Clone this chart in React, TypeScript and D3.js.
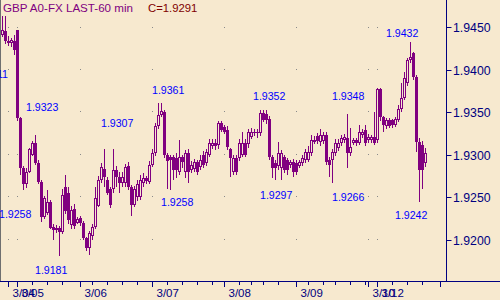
import React, { useEffect } from "react";
import * as d3 from "d3";

// ---- data ----
const opens = [
  1.9441, 1.9445, 1.9434, 1.9431, 1.9433, 1.9446, 1.9343, 1.9284, 1.9265, 1.928,
  1.93, 1.9314, 1.929, 1.9268, 1.9227, 1.9231, 1.9244, 1.9215, 1.9211, 1.9213,
  1.9209, 1.9262, 1.9255, 1.9217, 1.9236, 1.922, 1.9225, 1.922, 1.9202, 1.919,
  1.9204, 1.9215, 1.924, 1.927, 1.9283, 1.927, 1.926, 1.9259, 1.9282, 1.9274,
  1.9266, 1.9266, 1.9287, 1.9262, 1.9241, 1.925, 1.925, 1.9266, 1.9272, 1.9268,
  1.9288, 1.9302, 1.9333, 1.9347, 1.935, 1.93, 1.9297, 1.9297, 1.9296, 1.928,
  1.9297, 1.9279, 1.9302, 1.9282, 1.9283, 1.9291, 1.9285, 1.93, 1.929, 1.93,
  1.931, 1.9314, 1.9311, 1.9337, 1.9332, 1.9329, 1.9306, 1.928, 1.9296, 1.9296,
  1.93, 1.9314, 1.9312, 1.9321, 1.9325, 1.9325, 1.9325, 1.9349, 1.9348, 1.9342,
  1.9297, 1.929, 1.9286, 1.9284, 1.9297, 1.9294, 1.9288, 1.9291, 1.929, 1.9287,
  1.929, 1.9294, 1.9294, 1.9302, 1.9315, 1.9322, 1.9315, 1.9316, 1.9323, 1.9294,
  1.9294, 1.9302, 1.9308, 1.9314, 1.9317, 1.932, 1.9302, 1.9314, 1.9317, 1.9314,
  1.9323, 1.9329, 1.9317, 1.9317, 1.9321, 1.9317, 1.9377, 1.9344, 1.9333, 1.9341,
  1.9341, 1.9335, 1.9341, 1.9353, 1.9367, 1.9384, 1.9411, 1.942, 1.9391, 1.9315,
  1.9311, 1.929,
];
const highs = [
  1.9463, 1.9463, 1.944, 1.9437, 1.9441, 1.9447, 1.9344, 1.9287, 1.9284, 1.9308,
  1.9316, 1.9323, 1.9293, 1.927, 1.9251, 1.9258, 1.9246, 1.9218, 1.9217, 1.9216,
  1.926, 1.9276, 1.9262, 1.924, 1.9242, 1.9226, 1.9228, 1.9222, 1.9203, 1.921,
  1.9218, 1.9262, 1.9275, 1.929, 1.9307, 1.9274, 1.9262, 1.9306, 1.9286, 1.9279,
  1.928, 1.9289, 1.9291, 1.9264, 1.9263, 1.927, 1.9276, 1.9278, 1.9275, 1.9292,
  1.9306, 1.9337, 1.9361, 1.9361, 1.9352, 1.9302, 1.93, 1.93, 1.9302, 1.9317,
  1.93, 1.9305, 1.9306, 1.9292, 1.9295, 1.9294, 1.9299, 1.9304, 1.9306, 1.9318,
  1.9318, 1.9318, 1.934, 1.934, 1.9335, 1.9333, 1.9308, 1.9299, 1.9299, 1.9318,
  1.9327, 1.9318, 1.933, 1.9331, 1.933, 1.933, 1.9352, 1.9352, 1.9352, 1.9345,
  1.9299, 1.9293, 1.9315, 1.9305, 1.93, 1.9296, 1.9294, 1.9295, 1.9294, 1.9294,
  1.9299, 1.9306, 1.931, 1.9323, 1.9322, 1.9325, 1.933, 1.9327, 1.9326, 1.9297,
  1.9306, 1.9318, 1.9318, 1.9323, 1.9324, 1.9348, 1.9331, 1.932, 1.9319, 1.9335,
  1.933, 1.9335, 1.9324, 1.9323, 1.935, 1.9378, 1.9378, 1.9345, 1.9343, 1.9343,
  1.9342, 1.9344, 1.9358, 1.9384, 1.9397, 1.9413, 1.9432, 1.9421, 1.9393, 1.932,
  1.9316, 1.9308,
];
const lows = [
  1.9438, 1.943, 1.9428, 1.9427, 1.9417, 1.9339, 1.9276, 1.9258, 1.9261, 1.9278,
  1.9298, 1.9288, 1.9265, 1.9221, 1.9224, 1.9229, 1.9212, 1.92, 1.9208, 1.9181,
  1.9206, 1.923, 1.9218, 1.9212, 1.9212, 1.9218, 1.9216, 1.92, 1.9186, 1.9182,
  1.92, 1.9212, 1.9238, 1.9266, 1.9262, 1.9252, 1.9237, 1.9255, 1.9262, 1.9255,
  1.9262, 1.9262, 1.9258, 1.9228, 1.9238, 1.9245, 1.9247, 1.9262, 1.9265, 1.9265,
  1.9285, 1.9298, 1.933, 1.9344, 1.9296, 1.926, 1.9258, 1.927, 1.9272, 1.9276,
  1.9284, 1.9272, 1.9267, 1.9278, 1.928, 1.9276, 1.9282, 1.9284, 1.9286, 1.9297,
  1.9306, 1.9305, 1.9307, 1.9326, 1.9324, 1.9305, 1.9274, 1.9276, 1.9276, 1.9292,
  1.9297, 1.9297, 1.9308, 1.9318, 1.9322, 1.932, 1.9322, 1.9338, 1.9336, 1.9294,
  1.9272, 1.927, 1.9282, 1.927, 1.9278, 1.9276, 1.9284, 1.9274, 1.9276, 1.9284,
  1.9287, 1.929, 1.9291, 1.9298, 1.9312, 1.9312, 1.931, 1.9312, 1.9288, 1.9273,
  1.9267, 1.9298, 1.9304, 1.931, 1.9314, 1.9284, 1.9298, 1.9311, 1.931, 1.9311,
  1.932, 1.931, 1.9314, 1.9314, 1.9311, 1.9314, 1.934, 1.9326, 1.933, 1.9331,
  1.9331, 1.9332, 1.9338, 1.935, 1.9364, 1.9381, 1.9408, 1.9388, 1.9303, 1.9244,
  1.926, 1.9285,
];
const closes = [
  1.9447, 1.9433, 1.9431, 1.9435, 1.9423, 1.9343, 1.9284, 1.9265, 1.928, 1.9306,
  1.9314, 1.929, 1.9268, 1.9227, 1.9249, 1.9244, 1.9214, 1.9211, 1.9214, 1.9209,
  1.9252, 1.9234, 1.9223, 1.9235, 1.9216, 1.9224, 1.9219, 1.9202, 1.919, 1.9208,
  1.9215, 1.9249, 1.927, 1.9285, 1.9273, 1.9255, 1.9241, 1.9282, 1.9273, 1.9266,
  1.9274, 1.9285, 1.9262, 1.9241, 1.926, 1.9265, 1.927, 1.9272, 1.9269, 1.9288,
  1.9302, 1.9333, 1.9347, 1.9351, 1.93, 1.9292, 1.9294, 1.9282, 1.9282, 1.9297,
  1.9291, 1.9302, 1.9279, 1.9288, 1.9291, 1.9279, 1.9294, 1.9288, 1.9303, 1.9314,
  1.9313, 1.931, 1.9337, 1.9329, 1.9327, 1.9309, 1.9296, 1.9296, 1.928, 1.9314,
  1.9314, 1.93, 1.9326, 1.9327, 1.9327, 1.9327, 1.9349, 1.9341, 1.9341, 1.9297,
  1.9284, 1.9284, 1.9302, 1.9302, 1.9282, 1.9282, 1.9291, 1.928, 1.928, 1.9291,
  1.9296, 1.9303, 1.9303, 1.9317, 1.9317, 1.9316, 1.9323, 1.9323, 1.9291, 1.9288,
  1.9303, 1.9314, 1.9314, 1.932, 1.9321, 1.9302, 1.9309, 1.9317, 1.9314, 1.9326,
  1.9327, 1.9314, 1.9321, 1.9321, 1.9314, 1.9377, 1.9344, 1.9335, 1.9341, 1.9333,
  1.9335, 1.9342, 1.9353, 1.9367, 1.939, 1.9411, 1.9415, 1.9391, 1.9315, 1.9282,
  1.9282, 1.9302,
];

const dayLabels = ["3/04", "3/05", "3/06", "3/07", "3/08", "3/09", "3/10", "3/12", ""];
const dayIndex = [2, 5, 26, 50, 74, 98, 122, 125, 146];
const minorTickIndex = [10, 15, 20, 30, 35, 40, 45, 55, 60, 65, 70, 79, 83, 87, 92, 102, 107, 111, 116, 121, 130, 135, 140];
const priceTicks = [1.92, 1.925, 1.93, 1.935, 1.94, 1.945];

// annotation texts with their anchor (candle index, price) of the text start/baseline
const annotText = ["1.9323", "1.9307", "1.9361", "1.9352", "1.9348", "1.9432", "1.9258", "1.9258", "1.9181", "1.9297", "1.9266", "1.9242"];
const annotIdx = [7.83, 32.83, 49.83, 83.5, 109.83, 127.83, -1.17, 52.83, 10.83, 85.83, 109.83, 130.83];
const annotPrice = [1.9351, 1.9332, 1.9371, 1.9364, 1.9364, 1.9438, 1.9225, 1.924, 1.9159, 1.9248, 1.9245, 1.9224];
const partialText = "1.9411";
const partialIdx = 1.83;
const partialPrice = 1.939;

const titleText = "GBP A0-FX LAST-60 min";
const closeText = "C=1.9291";

const W = 500;
const H = 300;
const AXIS_X = 446.5;
const AXIS_Y = 281.5;
const PURPLE = "#800080";
const NAVY = "#000080";
const BG = "#F7E9CF";
const FONT = "'Liberation Sans', Arial, sans-serif";

export default function App() {
  useEffect(() => {
    document.body.style.margin = "0";
  }, []);

  const x = d3.scaleLinear().domain([0, 1]).range([2.5, 5.5]);
  const y = d3.scaleLinear().domain([1.92, 1.945]).range([239.5, 27]);

  const candles = opens.map((o, i) => {
    const c = closes[i];
    const hi = highs[i];
    const lo = lows[i];
    const cx = x(i);
    const up = c >= o;
    const top = Math.round(y(Math.max(o, c)));
    const bot = Math.round(y(Math.min(o, c)));
    const hY = Math.round(y(hi));
    const lY = Math.round(y(lo));
    const bh = Math.max(1, bot - top);
    return (
      <g key={i}>
        {hY < top && <line x1={cx} x2={cx} y1={hY} y2={top} stroke={PURPLE} strokeWidth={1} />}
        {lY > top + bh && <line x1={cx} x2={cx} y1={top + bh} y2={lY} stroke={PURPLE} strokeWidth={1} />}
        {up && bh >= 2 ? (
          <rect x={cx - 1} y={top + 0.5} width={2} height={bh - 1} fill={BG} stroke={PURPLE} strokeWidth={1} />
        ) : (
          <rect x={cx - 1.5} y={top} width={3} height={bh} fill={PURPLE} />
        )}
      </g>
    );
  });

  const dots: JSX.Element[] = [];
  dayIndex.slice(0, 8).forEach((di, a) => {
    priceTicks.forEach((p, b) => {
      dots.push(
        <rect key={`d${a}-${b}`} x={Math.floor(x(di) - 0.5)} y={Math.floor(y(p))} width={1} height={1} fill="#8a8a8a" />
      );
    });
  });

  return (
    <svg width={W} height={H} style={{ display: "block", position: "absolute", left: 0, top: 0 }} fontFamily={FONT}>
      <rect x={0} y={0} width={W} height={H} fill={BG} />
      {dots}
      {candles}
      {/* left border */}
      <line x1={0.5} x2={0.5} y1={0} y2={AXIS_Y} stroke="#6f6f6f" strokeWidth={1} />
      {/* right price axis */}
      <line x1={AXIS_X} x2={AXIS_X} y1={0} y2={AXIS_Y} stroke={NAVY} strokeWidth={1} />
      {priceTicks.map((p, k) => {
        const yy = Math.round(y(p)) + 0.5;
        return (
          <g key={`pt${k}`}>
            <line x1={AXIS_X} x2={AXIS_X + 5} y1={yy} y2={yy} stroke={NAVY} strokeWidth={1} />
            <text x={453} y={yy + 4.5} fontSize={12.3} fill={NAVY}>
              {d3.format(".4f")(p)}
            </text>
          </g>
        );
      })}
      {/* bottom time axis */}
      <line x1={0} x2={W} y1={AXIS_Y} y2={AXIS_Y} stroke={NAVY} strokeWidth={1} />
      {minorTickIndex.map((ti, k) => (
        <line key={`mt${k}`} x1={Math.floor(x(ti)) + 0.5} x2={Math.floor(x(ti)) + 0.5} y1={AXIS_Y} y2={AXIS_Y + 3.5} stroke={NAVY} strokeWidth={1} />
      ))}
      {dayIndex.map((di, k) => (
        <g key={`dt${k}`}>
          <line x1={Math.floor(x(di)) + 0.5} x2={Math.floor(x(di)) + 0.5} y1={AXIS_Y} y2={AXIS_Y + 5.5} stroke={NAVY} strokeWidth={1} />
          <text x={x(di) + 4} y={297} fontSize={11.5} fill={NAVY}>
            {dayLabels[k]}
          </text>
        </g>
      ))}
      {/* annotations */}
      {annotText.map((t, k) => (
        <text key={`an${k}`} x={x(annotIdx[k])} y={y(annotPrice[k])} fontSize={10.6} fill="#0000FF">
          {t}
        </text>
      ))}
      <text x={x(partialIdx)} y={y(partialPrice)} fontSize={10.6} fill="#0000FF" textAnchor="end">
        {partialText}
      </text>
      {/* title */}
      <text x={3} y={12} fontSize={11.6} fill={PURPLE}>
        {titleText}
      </text>
      <text x={148} y={12} fontSize={11.3} fill="#800000">
        {closeText}
      </text>
    </svg>
  );
}
